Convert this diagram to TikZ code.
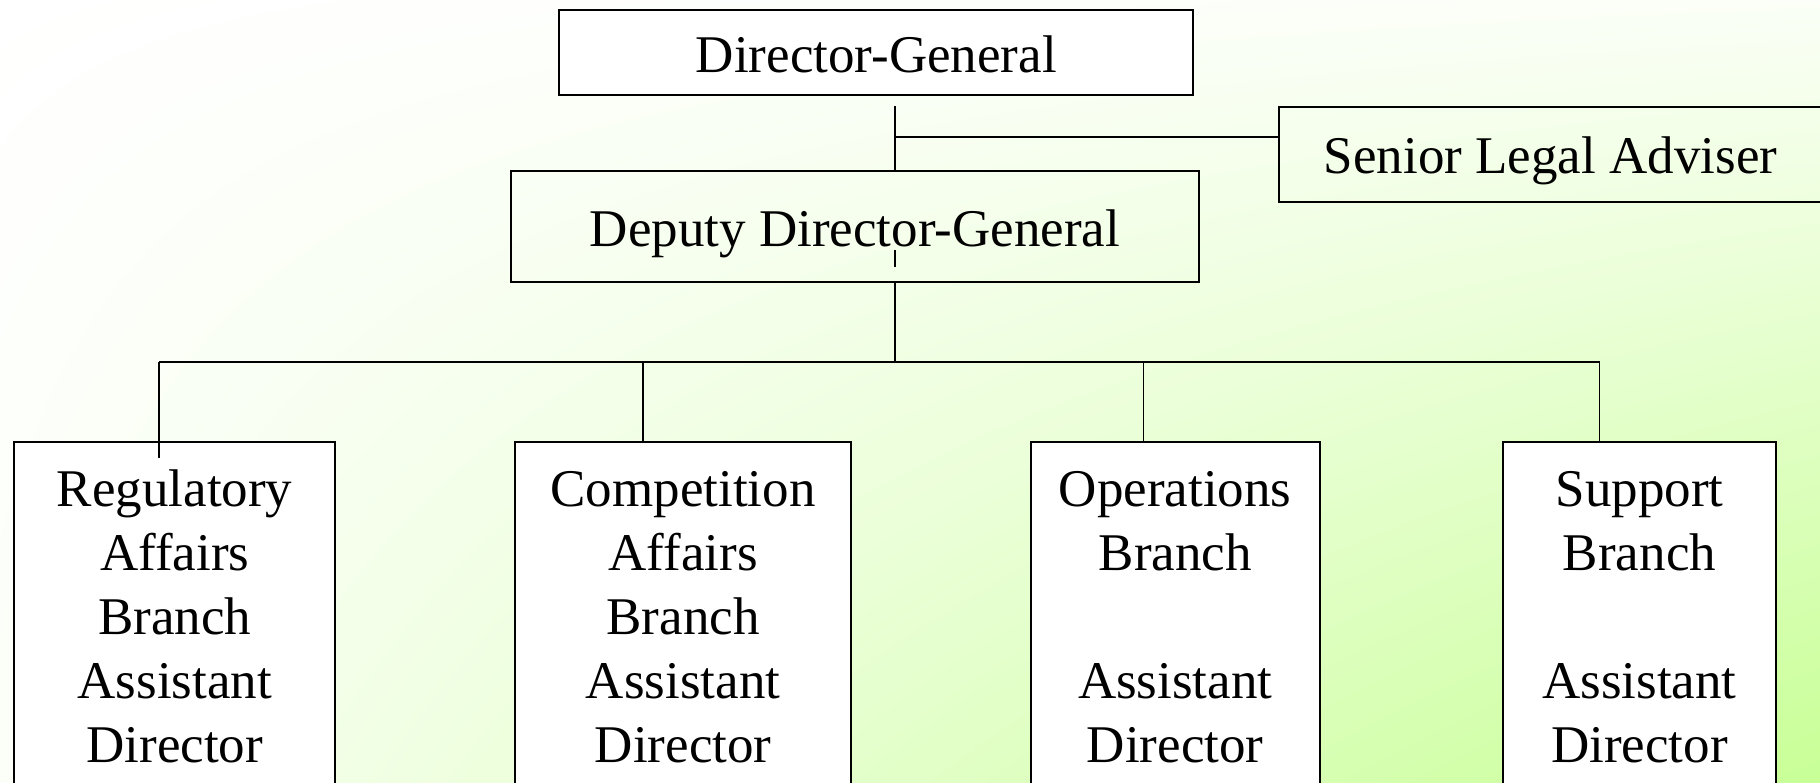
\documentclass[tikz,border=0pt]{standalone}
\usepackage{fontspec}
\setmainfont{Liberation Serif}
\usetikzlibrary{shadings}
\definecolor{bgwhite}{RGB}{255,255,255}
\definecolor{bgpale}{RGB}{251,255,247}
\definecolor{bggreen}{RGB}{200,255,150}
\tikzset{
  box/.style={draw=black, line width=1pt, inner sep=0pt},
  wbox/.style={box, fill=white},
  conn/.style={draw=black, line width=0.8pt},
  lbl/.style={inner sep=0pt, font=\fontsize{26.5}{32}\selectfont}
}
\newcommand{\branchtext}[2]{\parbox[t]{#1}{\centering #2}}
\begin{document}
\begin{tikzpicture}[x=0.5pt, y=-0.5pt]
  \useasboundingbox (0,0) rectangle (1820,782);
  \clip (0,0) rectangle (1820,782);
  \shade[upper left=bgwhite, upper right=bgpale, lower left=bgpale, lower right=bggreen]
    (0,0) rectangle (1820,782);

  % top boxes
  \node[wbox, minimum width=317pt, minimum height=42.4pt] (dg) at (876.4,52.8) {};
  \node[box, minimum width=344pt, minimum height=55.7pt] (ddg) at (855,226.3) {};
  \node[box, minimum width=272.5pt, minimum height=47.5pt] (sla) at (1551.5,154) {};

  \node[lbl, anchor=base] (dgt) at (876.4,72) {Director-General};
  \node[lbl, anchor=base] (ddgt) at (855,246) {Deputy Director-General};
  \node[lbl, anchor=base] (slat) at (1550.5,173) {Senior Legal Adviser};

  % branch boxes
  \node[wbox, minimum width=160.75pt, minimum height=189pt] (reg) at (174.7,631) {};
  \node[wbox, minimum width=167.7pt, minimum height=189pt] (comp) at (683.1,631) {};
  \node[wbox, minimum width=144.5pt, minimum height=189pt] (ops) at (1175.2,631) {};
  \node[wbox, minimum width=136.5pt, minimum height=189pt] (sup) at (1639.5,631) {};

  \node[lbl, anchor=base] (regt) at (174.7,506)
    {\branchtext{150pt}{Regulatory\\Affairs\\Branch\\Assistant\\Director}};
  \node[lbl, anchor=base] (compt) at (683.1,506)
    {\branchtext{160pt}{Competition\\Affairs\\Branch\\Assistant\\Director}};
  \node[lbl, anchor=base] (opst) at (1175.2,506)
    {\branchtext{140pt}{Operations\\Branch\\\mbox{}\\Assistant\\Director}};
  \node[lbl, anchor=base] (supt) at (1639.5,506)
    {\branchtext{130pt}{Support\\Branch\\\mbox{}\\Assistant\\Director}};

  % connectors
  \coordinate (dgstub) at (895,106);
  \coordinate (slaj) at (895,137);
  \coordinate (bus) at (895,362);
  \coordinate (busl) at (159,362);
  \coordinate (busr) at (1599.5,362);
  \coordinate (regdrop) at (159,458);
  \coordinate (tickA) at (895,250);
  \coordinate (tickB) at (895,267);

  \draw[conn] (dgstub) -- (dgstub |- ddg.north);
  \draw[conn] (slaj) -- (slaj -| sla.west);
  \draw[conn] (tickA) -- (tickB);
  \draw[conn] (bus |- ddg.south) -- (bus);
  \draw[conn] (busl) -- (busr);
  \draw[conn] (busl) -- (regdrop);
  \draw[conn] (643,362) -- (643,442) coordinate (compdrop);
  \draw[conn] (1143.3,362) -- (1143.3,442) coordinate (opsdrop);
  \draw[conn] (busr) -- (busr |- sup.north);
\end{tikzpicture}
\end{document}
